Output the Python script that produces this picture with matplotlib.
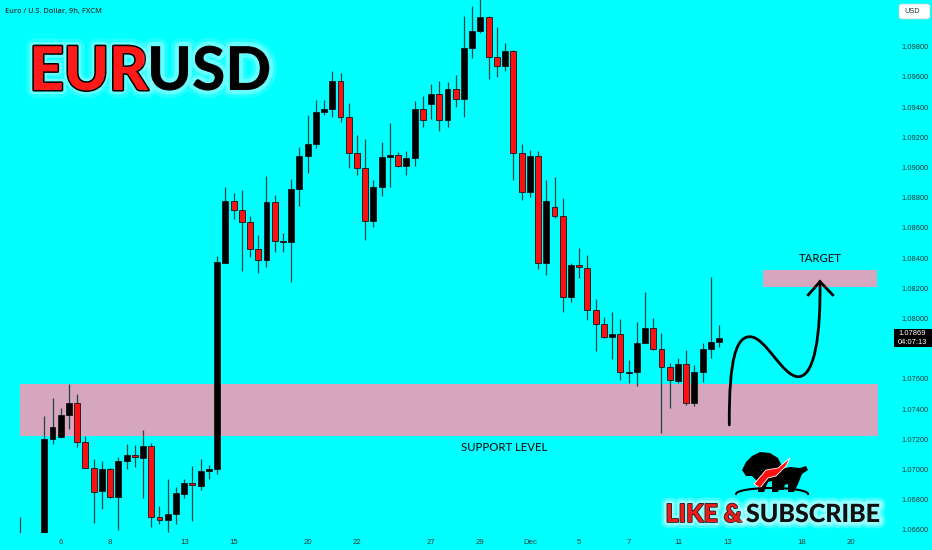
import matplotlib
matplotlib.use('Agg')
import matplotlib.pyplot as plt
import numpy as np
from matplotlib.patches import Rectangle, FancyBboxPatch, PathPatch, Polygon
from matplotlib.path import Path
import matplotlib.patheffects as pe

# ---------------- data ----------------
bar_index = list(range(-5, 81))
opens = [1.0652, 1.0645, 1.0630, 1.0627, 1.07200, 1.07217, 1.07361, 1.07438, 1.07180, 1.07012,
         1.06857, 1.07003, 1.06820, 1.07056, 1.07094, 1.07078, 1.07155, 1.06683, 1.06665, 1.06705,
         1.06838, 1.06908, 1.06892, 1.06992, 1.07000, 1.08369, 1.08780, 1.08718, 1.08641, 1.08458,
         1.08387, 1.08769, 1.08507, 1.08509, 1.08858, 1.09078, 1.09156, 1.09366, 1.09389, 1.09573,
         1.09332, 1.09098, 1.08995, 1.08648, 1.08873, 1.09071, 1.09083, 1.09010, 1.09061, 1.09385,
         1.09419, 1.09485, 1.09315, 1.09520, 1.09454, 1.09790, 1.09906, 1.09995, 1.09730, 1.09674,
         1.09772, 1.09094, 1.08840, 1.09076, 1.08369, 1.08736, 1.08679, 1.08140, 1.08354, 1.08336,
         1.08056, 1.07961, 1.07879, 1.07895, 1.07640, 1.07644, 1.07840, 1.07935, 1.07796, 1.07681,
         1.07586, 1.07697, 1.07442, 1.07648, 1.07796, 1.07842]
highs = [1.06685, 1.0652, 1.0640, 1.07356, 1.07473, 1.07405, 1.07566, 1.07498, 1.07224, 1.07069,
         1.07056, 1.07010, 1.07081, 1.07169, 1.07162, 1.07261, 1.07173, 1.06758, 1.06935, 1.06882,
         1.06935, 1.07023, 1.07067, 1.07030, 1.08414, 1.08869, 1.08829, 1.08851, 1.08679, 1.08553,
         1.08944, 1.08818, 1.08564, 1.08922, 1.09138, 1.09348, 1.09447, 1.09447, 1.09639, 1.09628,
         1.09425, 1.09215, 1.09187, 1.08917, 1.09167, 1.09293, 1.09105, 1.09111, 1.09440, 1.09473,
         1.09551, 1.09573, 1.09568, 1.09613, 1.10003, 1.10070, 1.10150, 1.10000, 1.09932, 1.09822,
         1.09780, 1.09156, 1.09116, 1.09111, 1.08917, 1.08939, 1.08796, 1.08370, 1.08465, 1.08420,
         1.08127, 1.08012, 1.08045, 1.07997, 1.07725, 1.07975, 1.08173, 1.08001, 1.07906, 1.07703,
         1.07736, 1.07791, 1.07692, 1.07836, 1.08273, 1.07957]
lows = [1.0638, 1.0625, 1.0616, 1.0620, 1.07169, 1.07206, 1.07266, 1.07151, 1.07008, 1.06647,
        1.06738, 1.06810, 1.06599, 1.07003, 1.07018, 1.06811, 1.06617, 1.06639, 1.06588, 1.06639,
        1.06813, 1.06661, 1.06864, 1.06937, 1.06970, 1.08365, 1.08657, 1.08314, 1.08409, 1.08299,
        1.08343, 1.08442, 1.08442, 1.08244, 1.08745, 1.08962, 1.09127, 1.09348, 1.09336, 1.09303,
        1.08995, 1.08950, 1.08520, 1.08608, 1.08811, 1.08871, 1.09002, 1.08950, 1.09012, 1.09270,
        1.09321, 1.09244, 1.09270, 1.09403, 1.09332, 1.09723, 1.09889, 1.09586, 1.09601, 1.09639,
        1.08917, 1.08785, 1.08807, 1.08326, 1.08288, 1.08663, 1.08045, 1.08111, 1.08266, 1.07990,
        1.07787, 1.07868, 1.07730, 1.07593, 1.07571, 1.07555, 1.07836, 1.07791, 1.07244, 1.07409,
        1.07571, 1.07427, 1.07422, 1.07581, 1.07736, 1.07813]
closes = [1.0645, 1.0630, 1.0627, 1.07202, 1.07283, 1.07361, 1.07438, 1.07180, 1.07012, 1.06853,
          1.07003, 1.06820, 1.07058, 1.07096, 1.07081, 1.07155, 1.06683, 1.06665, 1.06705, 1.06846,
          1.06908, 1.06897, 1.06992, 1.07001, 1.08372, 1.08780, 1.08718, 1.08641, 1.08458, 1.08387,
          1.08769, 1.08513, 1.08515, 1.08858, 1.09076, 1.09156, 1.09366, 1.09389, 1.09573, 1.09332,
          1.09098, 1.08995, 1.08648, 1.08873, 1.09071, 1.09083, 1.09012, 1.09061, 1.09385, 1.09315,
          1.09485, 1.09315, 1.09520, 1.09454, 1.09790, 1.09906, 1.09995, 1.09730, 1.09674, 1.09772,
          1.09094, 1.08840, 1.09076, 1.08369, 1.08780, 1.08679, 1.08140, 1.08354, 1.08343, 1.08056,
          1.07961, 1.07875, 1.07895, 1.07644, 1.07644, 1.07836, 1.07935, 1.07796, 1.07681, 1.07593,
          1.07697, 1.07442, 1.07648, 1.07796, 1.07842, 1.07869]

day_tick_bars = [0, 6, 15, 21, 30, 36, 45, 51, 57, 63, 69, 75, 81, 90, 96]
day_tick_labels = ['6', '8', '13', '15', '20', '22', '27', '29', 'Dec', '5', '7', '11', '13', '18', '20']
price_ticks = [1.066, 1.068, 1.070, 1.072, 1.074, 1.076, 1.080, 1.082,
               1.084, 1.086, 1.088, 1.090, 1.092, 1.094, 1.096, 1.098]
price_labels = ['%.5f' % p for p in price_ticks]
last_price = 1.07869
countdown = '04:07:13'

support_zone = (1.07222, 1.07567)
support_span = (-4.95, 99.3)
target_zone = (1.08210, 1.08321)
target_span = (85.37, 99.2)

# projected path (bar index, price)
path_start = (81.24, 1.07295)
path_peak = (83.75, 1.07879)
path_trough = (89.62, 1.07614)
path_end = (92.26, 1.08244)
arrow_arms = [(90.84, 1.08156), (93.80, 1.08156)]

# ---------------- style ----------------
SANS = 'Liberation Sans'
HEAVY = 'Lato'
BG = '#00FFFF'
PINK = '#D5A6BE'
RED = '#FF1010'
WICK = '#1E4646'
TXT = '#233A3A'

W, H = 932, 550
fig = plt.figure(figsize=(W / 100, H / 100), dpi=100, facecolor=BG)
ax = fig.add_axes([0, 1 - 533 / H, 885 / W, 533 / H])
ax.set_facecolor(BG)
ax.set_xlim(-7.38, 100.16)
ax.set_ylim(1.06579, 1.10109)
for s in ax.spines.values():
    s.set_visible(False)


def fx(x):
    return x / W


def fy(y):
    return 1 - y / H


# zones
ax.add_patch(Rectangle((support_span[0], support_zone[0]), support_span[1] - support_span[0],
                       support_zone[1] - support_zone[0], facecolor=PINK, edgecolor='none', zorder=0.5))
ax.add_patch(Rectangle((target_span[0], target_zone[0]), target_span[1] - target_span[0],
                       target_zone[1] - target_zone[0], facecolor=PINK, edgecolor='none', zorder=0.5))

# candles
o = np.array(opens); h = np.array(highs); l = np.array(lows); c = np.array(closes)
xi = np.array(bar_index)
up = c >= o
ax.vlines(xi, l, h, color=WICK, lw=0.9, zorder=2)
bottoms = np.minimum(o, c)
heights = np.maximum(np.abs(c - o), 0.00003)
ax.bar(xi, heights, bottom=bottoms, width=0.72,
       color=np.where(up, 'black', RED), edgecolor='#151515', linewidth=0.6, zorder=3)

# axes ticks
ax.yaxis.tick_right()
ax.set_yticks(price_ticks)
ax.set_yticklabels(price_labels)
ax.tick_params(axis='y', length=0, pad=11.5, labelsize=5.4, colors=TXT)
ax.set_xticks(day_tick_bars)
ax.set_xticklabels(day_tick_labels)
ax.tick_params(axis='x', length=0, pad=4, labelsize=5.6, colors=TXT)
for t in ax.get_yticklabels() + ax.get_xticklabels():
    t.set_fontfamily(SANS)

# projected path
P = Path
verts = [path_start,
         (path_start[0] - 0.05, path_start[1] + 0.0045),
         (path_peak[0] - 1.6, path_peak[1]),
         path_peak,
         (path_peak[0] + 1.9, path_peak[1]),
         (path_trough[0] - 1.9, path_trough[1]),
         path_trough,
         (path_trough[0] + 2.0, path_trough[1]),
         (path_end[0] + 0.1, path_end[1] - 0.0035),
         path_end]
codes = [P.MOVETO] + [P.CURVE4] * 9
ax.add_patch(PathPatch(Path(verts, codes), facecolor='none', edgecolor='black', lw=2.0, zorder=4,
                       capstyle='round'))
ax.plot([arrow_arms[0][0], path_end[0], arrow_arms[1][0]],
        [arrow_arms[0][1], path_end[1], arrow_arms[1][1]], color='black', lw=2.0, zorder=4,
        solid_joinstyle='miter')

# zone labels
ax.text(53.9, 1.07143, 'SUPPORT LEVEL', ha='center', va='center', fontsize=8.2,
        family=HEAVY, fontweight='medium', color='#151515', zorder=5)
ax.text(92.26, 1.0840, 'TARGET', ha='center', va='center', fontsize=8.2,
        family=HEAVY, fontweight='medium', color='#151515', zorder=5)

# header
fig.text(fx(5), fy(11), 'Euro / U.S. Dollar, 9h, FXCM', fontsize=5.3, va='center', ha='left',
         color='#1E3A3A', family='Open Sans', fontweight='semibold')

# title
glow = [pe.Stroke(linewidth=11, foreground='white', alpha=0.14),
        pe.Stroke(linewidth=6, foreground='white', alpha=0.3)]
fig.text(fx(148), fy(90), 'EUR', ha='right', va='baseline', fontsize=43.5, fontweight='black',
         family=HEAVY, color='#FF1A1A',
         path_effects=glow + [pe.Stroke(linewidth=2.2, foreground='black'), pe.Normal()])
fig.text(fx(147), fy(90), 'USD', ha='left', va='baseline', fontsize=43.5, fontweight='black',
         family=HEAVY, color='black', path_effects=glow + [pe.Normal()])

# USD box (top right)
fig.patches.append(FancyBboxPatch((fx(899), fy(19)), fx(31), 15 / H,
                                  boxstyle='round,pad=0,rounding_size=0.004', facecolor='white',
                                  edgecolor='#cccccc', lw=0.5, transform=fig.transFigure))
fig.text(fx(912), fy(11.5), 'USD', ha='center', va='center', fontsize=5.3, color=TXT, family=SANS)

# current price label
fig.patches.append(Rectangle((fx(894), fy(347)), fx(38), 18 / H, facecolor='black',
                             edgecolor='none', transform=fig.transFigure))
fig.text(fx(912), fy(333.5), '%.5f' % last_price, ha='center', va='center', fontsize=5.4,
         color='white', family=SANS)
fig.text(fx(912), fy(342), countdown, ha='center', va='center', fontsize=5.4,
         color='white', family=SANS)

# logo (bear & bull silhouette)
def poly(pts, **kw):
    fig.patches.append(Polygon([(fx(a), fy(b)) for a, b in pts], closed=True,
                               transform=fig.transFigure, **kw))

poly([(742, 470), (746, 462), (752, 456), (760, 452), (770, 453), (778, 458), (782, 466),
      (786, 476), (784, 490), (778, 490), (776, 480), (768, 482), (764, 492), (758, 492),
      (758, 482), (752, 476), (746, 476)], facecolor='black', edgecolor='none')
poly([(776, 470), (790, 467), (800, 468), (806, 466), (808, 470), (802, 474), (798, 484),
      (794, 492), (788, 492), (788, 484), (780, 486), (778, 492), (772, 492), (772, 480)],
     facecolor='black', edgecolor='none')
poly([(754, 484), (766, 470), (778, 468), (790, 458), (786, 466), (776, 476), (768, 478),
      (760, 488)], facecolor=RED, edgecolor='white', lw=0.6)
arc_t = np.linspace(0, np.pi, 40)
fig.lines.append(plt.Line2D(fx(772 + 36 * np.cos(arc_t)), fy(494 - 6 * np.sin(arc_t)),
                            color='black', lw=1.5, transform=fig.transFigure))

# LIKE & SUBSCRIBE
glow2 = [pe.Stroke(linewidth=9, foreground='white', alpha=0.25),
         pe.Stroke(linewidth=5, foreground='white', alpha=0.45)]
fig.text(fx(742), fy(522), 'LIKE &', ha='right', va='baseline', fontsize=18, fontweight='black',
         family=HEAVY, color='#F01A1A',
         path_effects=glow2 + [pe.Stroke(linewidth=1.2, foreground='#202020'), pe.Normal()])
fig.text(fx(746), fy(522), 'SUBSCRIBE', ha='left', va='baseline', fontsize=18, fontweight='black',
         family=HEAVY, color='#101010', path_effects=glow2 + [pe.Normal()])

fig.savefig('out.png', dpi=100, facecolor=BG)
